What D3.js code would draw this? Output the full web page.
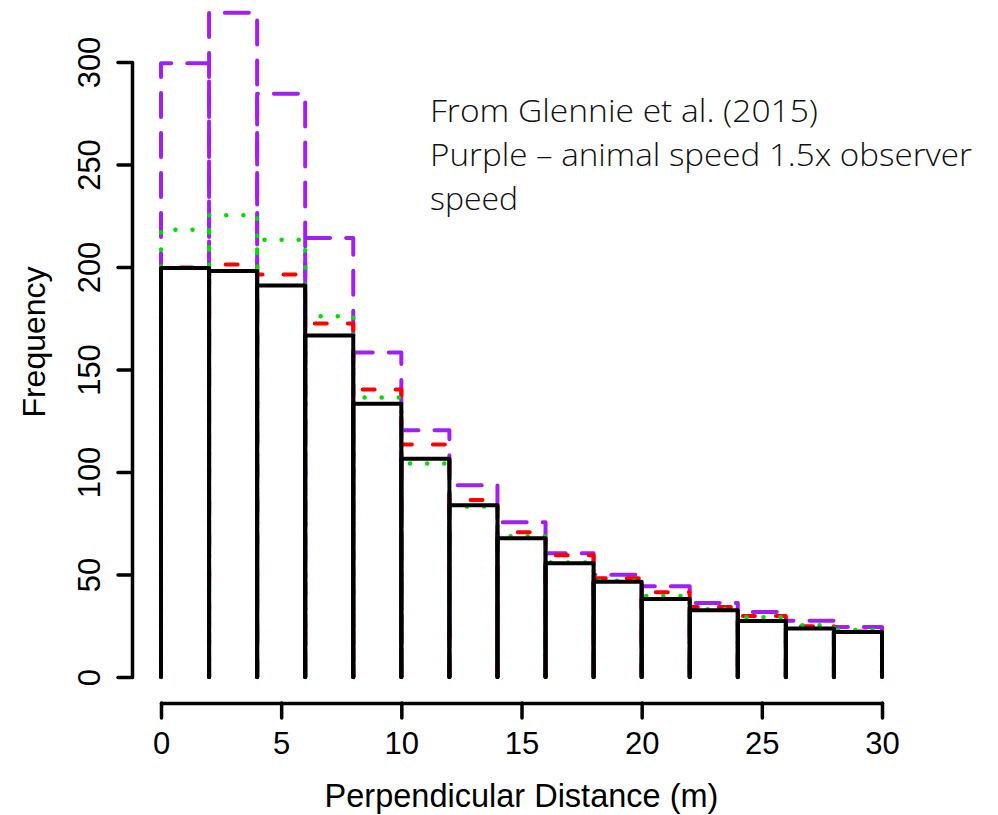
<!DOCTYPE html>
<html>
<head>
<meta charset="utf-8">
<script src="https://cdn.jsdelivr.net/npm/d3@7"></script>
<style>
  html, body { margin: 0; padding: 0; background: #fff; }
  svg { display: block; }
</style>
</head>
<body>
<svg id="chart" width="998" height="815"></svg>
<script>
// ---- data ----
const breaks = [0, 2, 4, 6, 8, 10, 12, 14, 16, 18, 20, 22, 24, 26, 28, 30];
const observed = [199.5, 198, 191, 166.6, 133.3, 106.5, 83.8, 67.7, 55.5, 46.5, 38, 32.6, 27.3, 23.6, 21.9];
const purpleSeries = [299.4, 324, 284.5, 214.2, 158.3, 120.4, 93.5, 75.5, 60.4, 49.9, 44.3, 36.1, 31.7, 27.5, 24.4];
const redSeries = [199.8, 201.2, 196.4, 172.4, 140.3, 113.4, 86.3, 70.6, 59.4, 48.2, 41.4, 34.1, 29.7, 24.8, 22.2];
const greenSeries = [218.2, 225.2, 213.3, 176, 136.3, 104.2, 83.2, 68.7, 55.8, 47, 39.5, 33, 29.2, 25.3, 22.9];
const xTicks = [0, 5, 10, 15, 20, 25, 30];
const yTicks = [0, 50, 100, 150, 200, 250, 300];
const xLabel = "Perpendicular Distance (m)";
const yLabel = "Frequency";
const noteLines = ["From Glennie et al. (2015)", "Purple \u2013 animal speed 1.5x observer", "speed"];

// ---- layout ----
const svg = d3.select("#chart");
const x = d3.scaleLinear().domain([0, 30]).range([161, 882]);
const y = d3.scaleLinear().domain([0, 300]).range([677, 62]);
const axisFont = "'Liberation Sans', Arial, Helvetica, sans-serif";

function bins(values) {
  return values.map((v, i) => ({ x0: breaks[i], x1: breaks[i + 1], v }));
}
function barPath(d) {
  return `M${x(d.x0)},${y(0)}V${y(d.v)}H${x(d.x1)}V${y(0)}`;
}
function drawSeries(values, color, width, dash, cls) {
  svg.append("g").attr("class", cls)
    .selectAll("path").data(bins(values)).join("path")
    .attr("d", barPath)
    .attr("fill", "none")
    .attr("stroke", color)
    .attr("stroke-width", width)
    .attr("stroke-dasharray", dash)
    .attr("stroke-linecap", "round")
    .attr("stroke-linejoin", "round");
}

drawSeries(purpleSeries, "#A020F0", 4, "24,16", "purple");
drawSeries(redSeries, "#FF0000", 4, "12,21", "red");
drawSeries(greenSeries, "#00E000", 4.5, "0.1,17", "green");
drawSeries(observed, "#000000", 4, null, "observed");

// ---- axes ----
const xAxis = svg.append("g")
  .attr("transform", `translate(0,703)`)
  .call(d3.axisBottom(x).tickValues(xTicks).tickSize(15).tickSizeOuter(0));
xAxis.select(".domain").attr("stroke-width", 3.5).attr("stroke-linecap", "round");
xAxis.selectAll(".tick line").attr("stroke-width", 3.5).attr("stroke-linecap", "round");
xAxis.selectAll(".tick text")
  .attr("font-family", axisFont).attr("font-size", 31).attr("fill", "#000")
  .attr("dy", 0).attr("y", 51);

const yAxis = svg.append("g")
  .attr("transform", `translate(132,0)`)
  .call(d3.axisLeft(y).tickValues(yTicks).tickSize(14).tickSizeOuter(0));
yAxis.select(".domain").attr("stroke-width", 3.5).attr("stroke-linecap", "round");
yAxis.selectAll(".tick line").attr("stroke-width", 3.5).attr("stroke-linecap", "round");
yAxis.selectAll(".tick text")
  .attr("font-family", axisFont).attr("font-size", 31).attr("fill", "#000")
  .attr("text-anchor", "middle")
  .attr("transform", "rotate(-90)")
  .attr("x", 0).attr("y", -32).attr("dy", 0);

// ---- titles ----
svg.append("text")
  .attr("x", (x(0) + x(30)) / 2).attr("y", 807)
  .attr("text-anchor", "middle")
  .attr("font-family", axisFont).attr("font-size", 32.5)
  .text(xLabel);

svg.append("text")
  .attr("transform", `translate(45,342) rotate(-90)`)
  .attr("text-anchor", "middle")
  .attr("font-family", axisFont).attr("font-size", 32)
  .text(yLabel);

// ---- annotation ----
const noteWidths = [388, 542, 88];
const note = svg.append("g").attr("class", "note");
noteLines.forEach((t, i) => {
  note.append("text")
    .attr("x", 430).attr("y", 122 + i * 44)
    .attr("font-family", "'Open Sans', 'Noto Sans', sans-serif")
    .attr("font-weight", 300)
    .attr("font-size", 31)
    .attr("textLength", noteWidths[i])
    .attr("lengthAdjust", "spacingAndGlyphs")
    .attr("fill", "#111")
    .text(t);
});
</script>
</body>
</html>
